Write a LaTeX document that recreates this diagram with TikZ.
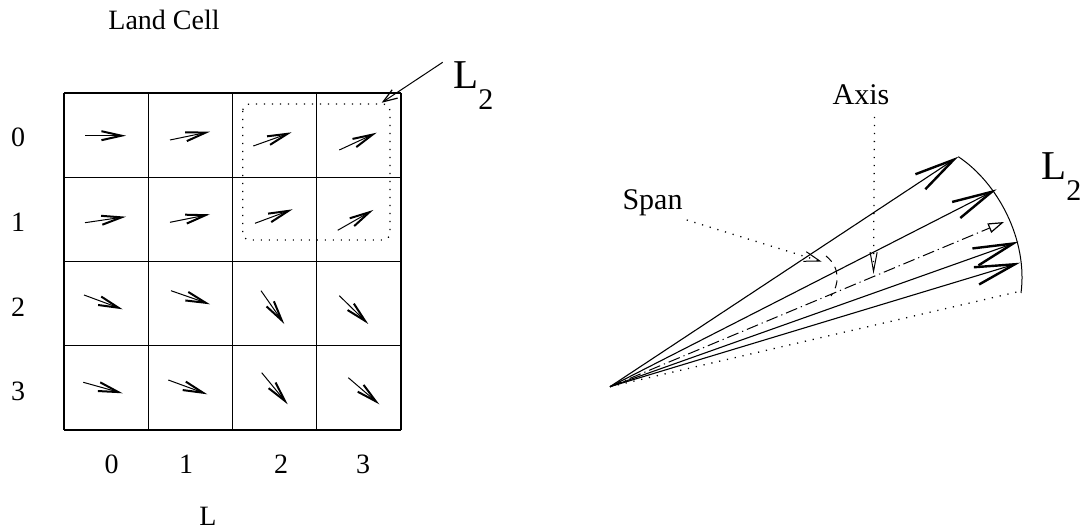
\documentclass[tikz,border=0pt]{standalone}
\usepackage{fontspec}
\setmainfont{Liberation Serif}
\usetikzlibrary{arrows.meta}
\begin{document}
\begin{tikzpicture}[x=.5pt,y=-.5pt,
	lbl/.style={inner sep=0pt,anchor=base,font=\fontsize{14}{16}\selectfont},
	bigl/.style={inner sep=0pt,anchor=base west,font=\fontsize{20.5}{24}\selectfont},
	cellvec/.style={line width=.5pt,-{Straight Barb[length=10pt,width=4.5pt,line width=1pt]}},
	fanvec/.style={line width=.55pt,-{Straight Barb[length=20pt,width=9pt,line width=1.2pt]}},
	dotline/.style={line width=.65pt,dash pattern=on .6pt off 3.4pt},
	dashdot/.style={line width=.5pt,dash pattern=on 6pt off 2pt on .6pt off 2pt},
	leader/.style={dotline,-{Straight Barb[length=8pt,width=5pt,line width=.5pt]}}]
	\useasboundingbox (0,0) rectangle (1087,529);
	% grid
	\foreach \i in {0,...,4}{
		\draw[line width=.6pt] (64+84.25*\i,93)--(64+84.25*\i,430);
		\draw[line width=.6pt] (64,93+84.25*\i)--(401,93+84.25*\i);}
	\foreach \xa/\ya/\xb/\yb in {85/135.7/126/135.7,170/140/210/131.7,253.3/146/291.7/132.3,339.3/150/376.7/132.7,
		85/222.7/126/216.7,170/222.3/210/214.3,255/223.3/292.7/209.3,337.7/230.3/373.3/210,
		84/295/122.7/309.3,171/290.7/210/304.3,261/290.7/284.3/324,339.3/295.7/368.3/324,
		83.3/382.3/122.7/393.3,168.3/380/207.3/394.3,261.7/372.7/287.7/404.3,348.3/377.7/379.3/404.3}
		\draw[cellvec](\xa,\ya)--(\xb,\yb);
	\draw[dotline,rounded corners=3.5pt](242.7,104)rectangle(390,240);
	\node[lbl](land) at (164,30){Land Cell};
	\foreach \r/\y in {0/146.7,1/231.7,2/316.7,3/400} \node[lbl](r\r) at (18,\y){\r};
	\foreach \c/\x in {0/111.7,1/186,2/281,3/363} \node[lbl](c\c) at (\x,473.3){\c};
	\node[lbl](ll) at (208,525){L};
	\node[bigl](ltwoa) at (453,89){L\raisebox{-10.5pt}{\fontsize{15}{16}\selectfont 2}};
	\coordinate(la) at (442.7,62.3);
	\coordinate(lb) at (381.7,102.7);
	\draw[line width=.5pt,-{Straight Barb[length=7pt,width=5pt,line width=.6pt]}](la)--(lb);
	% fan
	\coordinate(o) at (610,386.7);
	\coordinate(t1) at (958.3,156.7);
	\coordinate(t2) at (996.7,189.3);
	\coordinate(ax) at (1004,222);
	\coordinate(t3) at (1018.3,241.7);
	\coordinate(t4) at (1020,262.7);
	\coordinate(lo) at (1017,292);
	\coordinate(arcend) at (1021,293);
	\foreach \t in {t1,t2,t3,t4} \draw[fanvec](o)--(\t);
	\draw[dashdot,-{Triangle[open,length=8pt,width=5pt,line width=.6pt]}](o)--(ax);
	\draw[dotline](o)--(lo);
	\draw[line width=.5pt](t1)..controls(998,183)and(1028,240)..(arcend);
	\draw[line width=.5pt,dash pattern=on 4pt off 3pt](826,256)..controls(841,268)and(839,285)..(831,296);
	\node[bigl](ltwob) at (1041,180){L\raisebox{-10.5pt}{\fontsize{15}{16}\selectfont 2}};
	\node[lbl,font=\fontsize{15}{17}\selectfont](span) at (652.5,210){Span};
	\node[lbl,font=\fontsize{15}{17}\selectfont](axis) at (861,105){Axis};
	\coordinate(sa) at (686.7,220);
	\coordinate(sb) at (821.7,261.7);
	\coordinate(aa) at (874.5,117);
	\coordinate(ab) at (873.5,274);
	\draw[leader](sa)--(sb);
	\draw[leader,-{Straight Barb[length=9.5pt,width=3.5pt,line width=.5pt]}](aa)--(ab);
\end{tikzpicture}
\end{document}
